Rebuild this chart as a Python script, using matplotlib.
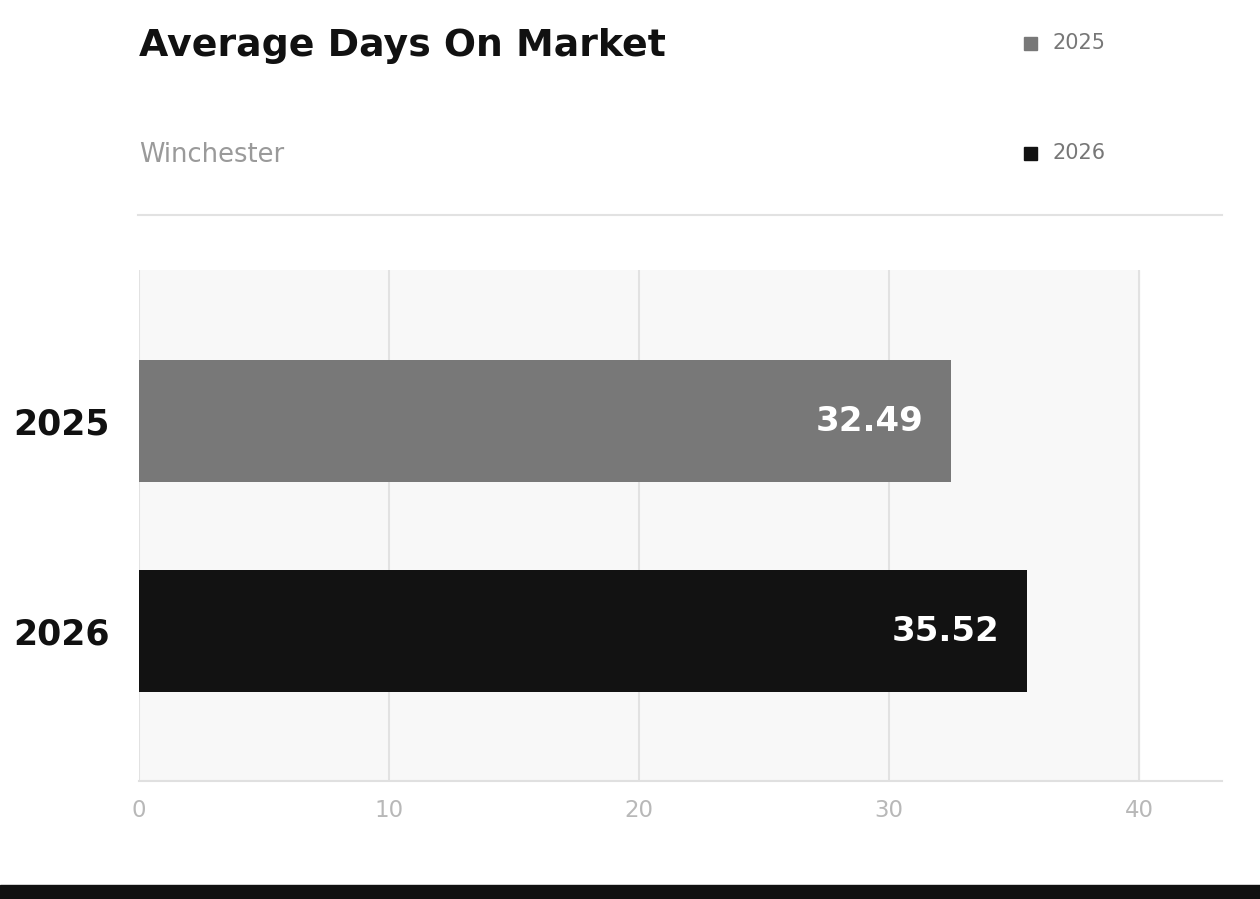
import matplotlib
matplotlib.use("Agg")
import matplotlib.pyplot as plt
from matplotlib.patches import Rectangle
from matplotlib.lines import Line2D

# chart data
years = ["2025", "2026"]
avg_days = [32.49, 35.52]
bar_colors = ["#787878", "#121212"]
x_ticks = [0, 10, 20, 30, 40]

title = "Average Days On Market"
subtitle = "Winchester"

plt.rcParams["font.family"] = ["DejaVu Sans"]

W, H = 1260, 899
fig = plt.figure(figsize=(W / 100, H / 100), dpi=100)
fig.patch.set_facecolor("white")


def fx(px):
    return px / W


def fy(py):
    return 1 - py / H


# plot area: left 139px, right 1222px, top 270px, bottom 781px
ax = fig.add_axes([fx(139), fy(781), fx(1222) - fx(139), fy(270) - fy(781)])
ax.set_facecolor("white")
ax.axvspan(0, x_ticks[-1], color="#f8f8f8", zorder=0)

pos = list(range(len(years)))
ax.barh(pos, avg_days, height=0.58, color=bar_colors, zorder=2)

for p, v in zip(pos, avg_days):
    ax.text(v - 1.1, p, f"{v:.2f}", ha="right", va="center",
            color="white", fontsize=24.5, fontweight="bold", zorder=3)

ax.set_xlim(0, 43.32)
ax.set_ylim(1.714, -0.719)
ax.set_xticks(x_ticks)
ax.set_xticklabels([str(t) for t in x_ticks], color="#b8b8b8", fontsize=16.5)
ax.set_yticks(pos)
ax.set_yticklabels(years, fontsize=25, fontweight="bold", color="#111111")
ax.tick_params(axis="x", length=0, pad=13)
ax.tick_params(axis="y", length=0, pad=21)

for t in x_ticks:
    ax.axvline(t, color="#e2e2e2", lw=1.5, zorder=1)

for s in ["top", "right", "left"]:
    ax.spines[s].set_visible(False)
ax.spines["bottom"].set_color("#e0e0e0")
ax.spines["bottom"].set_linewidth(1.5)

# header
fig.text(fx(139), fy(46), title, fontsize=27.3, fontweight="bold",
         color="#111111", ha="left", va="center")
fig.text(fx(139), fy(155), subtitle, fontsize=18.5, color="#9a9a9a",
         ha="left", va="center")

# legend
leg_y = [43, 153]
for yr, c, ly in zip(years, bar_colors, leg_y):
    fig.patches.append(Rectangle((fx(1024), fy(ly + 7)), fx(13), fy(0) - fy(13),
                                 transform=fig.transFigure, color=c))
    fig.text(fx(1052), fy(ly), yr, fontsize=15, color="#777777",
             ha="left", va="center")

# divider under header
fig.lines.append(Line2D([fx(138), fx(1222)], [fy(215), fy(215)],
                        transform=fig.transFigure, color="#e2e2e2", lw=1.5))

# dark band at the bottom
fig.patches.append(Rectangle((0, 0), 1, fy(885), transform=fig.transFigure,
                             color="#111111"))

fig.savefig("out.png", dpi=100)
